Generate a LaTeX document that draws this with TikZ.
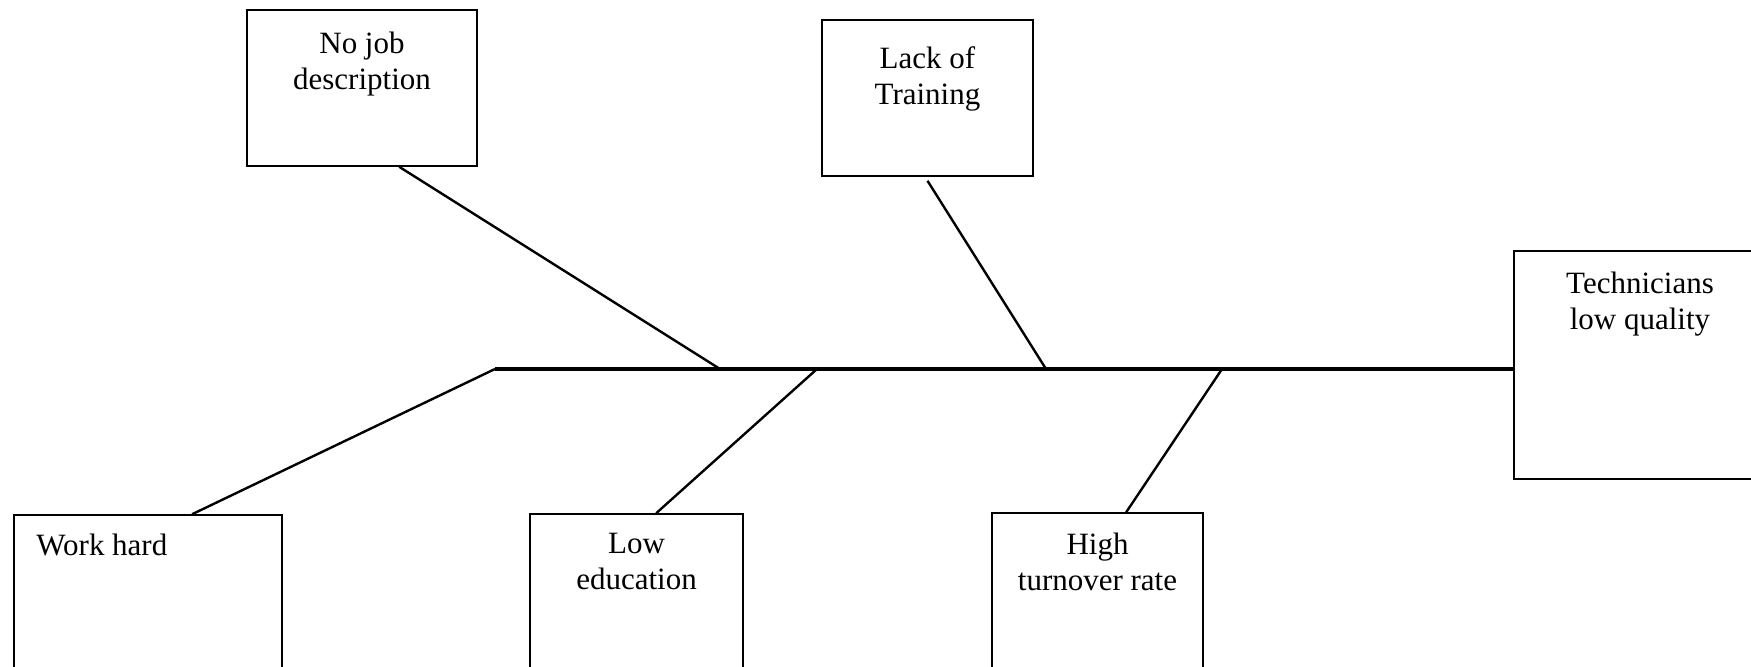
\documentclass[tikz,border=0pt]{standalone}
\usepackage{fontspec}
\setmainfont{Liberation Serif}
\usetikzlibrary{fit,calc}
\begin{document}
\begin{tikzpicture}[x=0.5pt,y=-0.5pt,
  box/.style={draw, line width=0.8pt, inner sep=0pt, rectangle},
  txt/.style={font=\fontsize{15.5}{18}\selectfont, align=center, inner sep=0pt, anchor=north},
  branch/.style={line width=1.2pt},
  spine/.style={line width=1.7pt}]
\useasboundingbox (0,0) rectangle (1751,667);
\clip (0,0) rectangle (1751,667);
\fill[white] (0,0) rectangle (1751,667);
% boxes
\node[box, fit={(247,10) (477,166)}] (nojob) {};
\node[box, fit={(822,20) (1033,176)}] (lack) {};
\node[box, fit={(1514,251) (1766,479)}] (tech) {};
\node[box, fit={(14,515) (282,700)}] (work) {};
\node[box, fit={(530,514) (743,700)}] (low) {};
\node[box, fit={(992,513) (1203,700)}] (high) {};
% texts
\node[txt] (tnojob) at (362,28) {\strut No job\\\strut description};
\node[txt] (tlack) at (927.5,43) {\strut Lack of\\\strut Training};
\node[txt] (ttech) at (1640,268) {\strut Technicians\\\strut low quality};
\node[txt, anchor=north west] (twork) at (36,530) {\strut Work hard};
\node[txt] (tlow) at (636.5,528) {\strut Low\\\strut education};
\node[txt] (thigh) at (1097.5,529) {\strut High\\\strut turnover rate};
% spine points
\coordinate (sp0) at (495,369);
\coordinate (s1) at (720,369);
\coordinate (s2) at (817,369);
\coordinate (s3) at (1046,369);
\coordinate (s4) at (1222,369);
% spine
\draw[spine] (sp0) -- (sp0 -| tech.west);
% branches
\draw[branch] ($(nojob.south west)+(153,0)$) -- (s1);
\draw[branch] ($(lack.south)+(0,4)$) -- (s3);
\draw[branch] ($(work.north west)+(179,0)$) -- (sp0);
\draw[branch] ($(low.north west)+(127,0)$) -- (s2);
\draw[branch] ($(high.north west)+(135,0)$) -- (s4);
\end{tikzpicture}
\end{document}
